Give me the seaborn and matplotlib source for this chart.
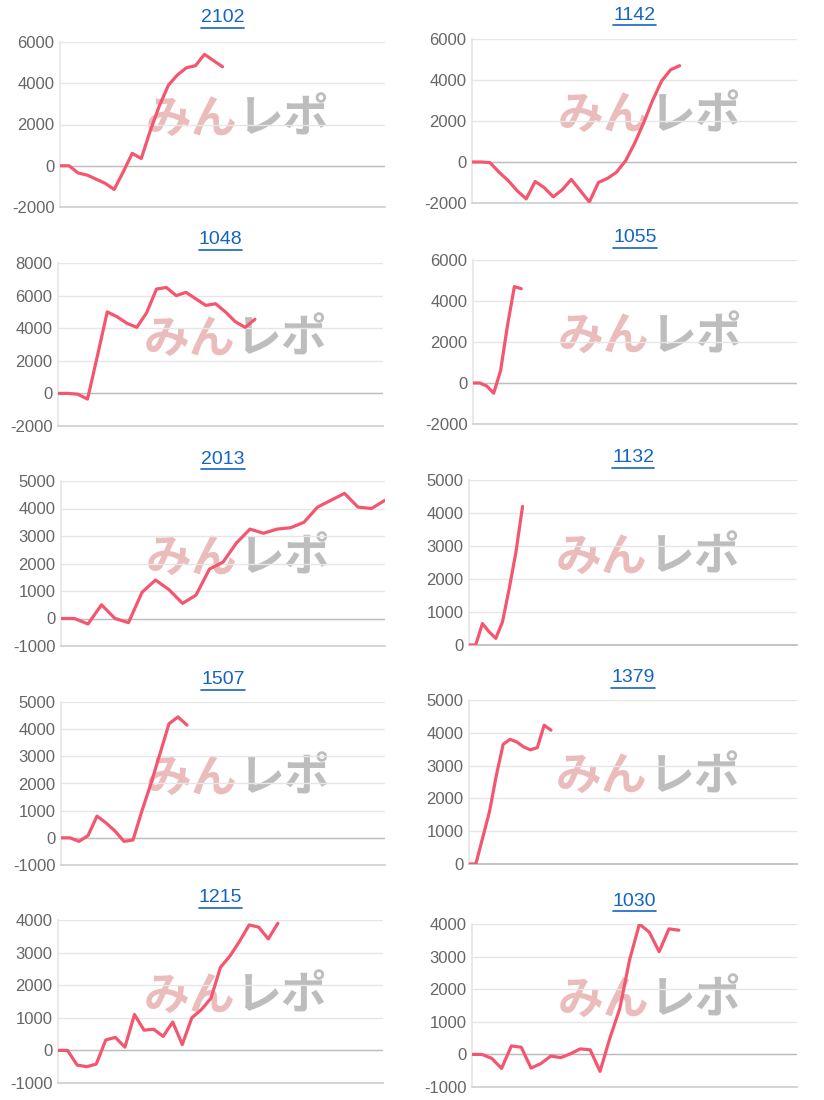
import matplotlib
matplotlib.use("Agg")
import matplotlib.pyplot as plt
import seaborn as sns
import numpy as np
import pandas as pd

sns.set_theme(style="white")
plt.rcParams['font.family'] = ['Liberation Sans', 'DejaVu Sans', 'Noto Sans CJK JP']
plt.rcParams['axes.unicode_minus'] = False

# machine numbers (titles), in reading order
titles = ["2102", "1142", "1048", "1055", "2013", "1132", "1507", "1379", "1215", "1030"]

# cumulative balance per game
v2102 = [0, 0, -350, -450, -650, -850, -1150, -300, 600, 350, 1700, 2900, 3900, 4400, 4750, 4850, 5400, 5100, 4800]
v1142 = [0, 0, -30, -500, -900, -1400, -1800, -950, -1250, -1700, -1350, -850, -1400, -1950,
         -1000, -800, -500, 50, 900, 1900, 3000, 3950, 4500, 4700]
v1048 = [0, 0, -50, -350, 2300, 5000, 4700, 4300, 4050, 4950, 6400, 6500, 6000, 6200, 5800, 5400,
         5500, 5000, 4400, 4050, 4550]
v1055 = [0, 0, -150, -500, 600, 2800, 4700, 4600]
v2013 = [0, 0, -200, 500, 0, -150, 950, 1400, 1050, 550, 850, 1800, 2050, 2750, 3250, 3100, 3250,
         3300, 3500, 4050, 4300, 4550, 4050, 4000, 4300]
v1132 = [0, 0, 650, 400, 200, 700, 1700, 2800, 4200]
v1507 = [0, 0, -130, 80, 800, 550, 250, -130, -80, 1000, 2000, 3100, 4200, 4450, 4150]
v1379 = [0, 0, 800, 1600, 2700, 3650, 3800, 3720, 3570, 3480, 3550, 4230, 4080]
v1215 = [0, 0, -450, -500, -420, 320, 400, 100, 1100, 620, 650, 430, 870, 180, 1000, 1250, 1600,
         2550, 2900, 3350, 3850, 3780, 3420, 3900]
v1030 = [0, 0, -120, -430, 260, 220, -420, -280, -50, -100, 20, 170, 140, -520, 500, 1400, 2900,
         4000, 3750, 3150, 3850, 3810]
series = [v2102, v1142, v1048, v1055, v2013, v1132, v1507, v1379, v1215, v1030]

# x-axis slot count of each chart
slots = [36, 36, 33, 47, 24, 49, 36, 48, 34, 33]
# y-axis range and step
yranges = [(-2000, 6000, 2000), (-2000, 6000, 2000), (-2000, 8000, 2000), (-2000, 6000, 2000),
           (-1000, 5000, 1000), (0, 5000, 1000), (-1000, 5000, 1000), (0, 5000, 1000),
           (-1000, 4000, 1000), (-1000, 4000, 1000)]

W, H = 824, 1100
fig = plt.figure(figsize=(W / 100, H / 100), dpi=100)

# pixel boxes: (left, top, right, bottom) of each plot area, title y
boxes = [(60, 42, 385, 207, 18), (472, 39, 797, 203, 15),
         (58, 263, 383, 426, 240), (473, 260, 797, 424, 238),
         (61, 481, 385, 646, 460), (469, 480, 797, 645, 458),
         (61, 702, 385, 865, 680), (469, 700, 797, 864, 678),
         (58, 920, 383, 1083, 898), (472, 924, 797, 1087, 901)]

line_color = "#f5566f"
renderer = fig.canvas.get_renderer()

for i, (t, vals) in enumerate(zip(titles, series)):
    l, tp, r, b, ty = boxes[i]
    ax = fig.add_axes([l / W, 1 - b / H, (r - l) / W, (b - tp) / H])
    df = pd.DataFrame({"x": np.arange(len(vals)), "y": vals})
    lo, hi, step = yranges[i]

    # watermark
    ax.text(0.545, 0.53, "みん", transform=ax.transAxes, ha="right", va="center",
            fontsize=33, fontweight="bold", color="#ebbcbc",
            family=['Noto Sans CJK JP'], zorder=0)
    ax.text(0.545, 0.53, "レポ", transform=ax.transAxes, ha="left", va="center",
            fontsize=33, fontweight="bold", color="#bdbdbd",
            family=['Noto Sans CJK JP'], zorder=0)

    sns.lineplot(data=df, x="x", y="y", ax=ax, color=line_color, linewidth=2.3, zorder=3)
    ax.set_xlim(0, slots[i])
    ax.set_ylim(lo, hi)
    ax.set_yticks(np.arange(lo, hi + 1, step))
    ax.set_xticks([])
    ax.set_xlabel("")
    ax.set_ylabel("")
    ax.grid(axis="y", color="#e6e6e6", linewidth=1)
    if lo < 0:
        ax.axhline(0, color="#bdbdbd", linewidth=1, zorder=1)
    for s in ["top", "right"]:
        ax.spines[s].set_visible(False)
    ax.spines["left"].set_color("#e6e6e6")
    ax.spines["bottom"].set_color("#d0d0d0" if lo < 0 else "#bdbdbd")
    ax.tick_params(axis="y", labelsize=12, labelcolor="#666666", length=0, pad=4)

    # title, underlined like a link
    cx = (l + r) / 2 / W
    txt = fig.text(cx, 1 - ty / H, t, ha="center", va="center", fontsize=14, color="#1565c0")
    bb = txt.get_window_extent(renderer)
    fig.add_artist(plt.Line2D([bb.x0 / W, bb.x1 / W], [(bb.y0 - 1) / H, (bb.y0 - 1) / H],
                              color="#1565c0", linewidth=1.2, transform=fig.transFigure))

fig.savefig("out.png", dpi=100, facecolor="white")
